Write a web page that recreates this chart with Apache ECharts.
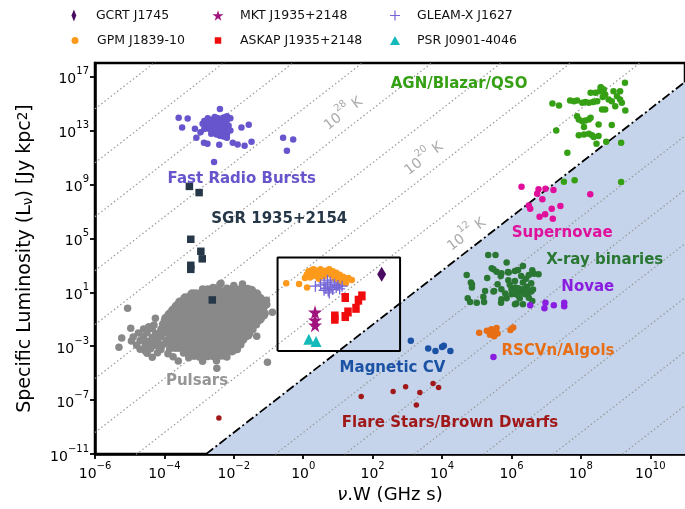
<!DOCTYPE html>
<html>
<head>
<meta charset="utf-8">
<script src="https://cdn.jsdelivr.net/npm/echarts@6/dist/echarts.min.js"></script>
<style>
  html, body { margin: 0; padding: 0; background: #fff; }
  #chart { width: 685px; height: 509px; }
</style>
</head>
<body>
<div id="chart"></div>
<script>
// Every point is [log10(nu*W / GHz s), log10(L_nu / Jy kpc^2)].

const xTicks = [-6, -4, -2, 0, 2, 4, 6, 8, 10];
const yTicks = [-11, -7, -3, 1, 5, 9, 13, 17];

// Brightness temperature lines: log L = 2 log(nu W) + log T - tbOffset
const tbOffset = 17.4;
const tempExponents = [-12, -8, -4, 0, 4, 8, 16, 20, 24, 28, 32, 36, 40, 44];
const limitExponent = 12;            // dash-dot line, region below it shaded
const tempLabels = [
  { exp: 28, at: [1.11, 14.41] },
  { exp: 20, at: [3.43, 11.07] },
  { exp: 12, at: [4.66, 5.44] }
];

// Box around the long-period transients
const zoomBoxX = [-0.74, 2.79];
const zoomBoxY = [-3.35, 3.57];

// Known source classes
const frb = [
  [-2.4,14.58],[-3.59,13.94],[-3.33,13.89],[-3.49,13.22],[-3.12,13.13],[-3.08,12.46],[-2.96,12.87],
  [-1.78,13.22],[-1.57,13.42],[-2.86,12.09],[-2.76,12.01],[-2.42,11.94],[-2.03,12.09],[-1.89,11.96],
  [-1.69,11.87],[-1.49,12.16],[-2.57,10.65],[-0.58,12.46],[-0.29,12.33],[-0.47,11.5],
  [-2.9,13.5],[-2.85,13.7],[-2.8,13.3],[-2.75,13.9],[-2.7,13.6],[-2.7,13.1],[-2.65,13.8],[-2.6,13.4],
  [-2.6,12.9],[-2.55,14.0],[-2.55,13.6],[-2.5,13.2],[-2.5,12.7],[-2.45,13.9],[-2.45,13.45],[-2.4,13.0],
  [-2.4,12.6],[-2.35,13.7],[-2.35,13.25],[-2.3,13.95],[-2.3,12.85],[-2.25,13.5],[-2.25,13.1],[-2.2,14.05],
  [-2.2,13.75],[-2.2,12.7],[-2.15,13.35],[-2.1,13.9],[-2.1,13.0],[-2.6,13.15],[-2.5,13.45],[-2.4,13.3],
  [-2.65,12.75],[-2.75,13.35],[-2.85,13.1],[-2.3,12.55],[-2.35,13.0],[-2.55,13.0],[-2.45,12.8],[-2.2,12.45]
];

const pulsars = [
  [-2.4,1.6],[-2.0,1.5],[-1.75,1.62],[-2.37,1.67],
  [-2.9,1.25],[-2.6,1.35],[-2.2,1.3],[-1.9,1.2],[-1.6,1.28],
  [-3.1,0.95],[-2.8,1.05],[-2.5,0.98],[-2.3,1.1],[-2.0,0.92],[-1.7,1.02],[-1.45,0.9],
  [-3.3,0.65],[-3.0,0.72],[-2.7,0.6],[-2.4,0.75],[-2.15,0.66],[-1.9,0.7],[-1.65,0.62],[-1.4,0.73],
  [-3.5,0.35],[-3.2,0.42],[-2.9,0.38],[-2.6,0.45],[-2.35,0.32],[-2.1,0.4],[-1.85,0.36],[-1.6,0.44],[-1.35,0.3],[-1.15,0.38],[-1.06,0.41],
  [-3.6,0.1],[-3.3,0.05],[-3.05,0.12],[-2.8,0.08],[-2.55,0.14],[-2.3,0.02],[-2.05,0.1],[-1.8,0.06],[-1.55,0.12],[-1.3,0.04],[-1.05,0.1],
  [-3.7,-0.22],[-3.45,-0.18],[-3.2,-0.25],[-2.95,-0.2],[-2.7,-0.15],[-2.45,-0.24],[-2.2,-0.2],[-1.95,-0.16],[-1.7,-0.23],[-1.45,-0.19],[-1.2,-0.24],[-0.89,-0.48],
  [-3.8,-0.52],[-3.55,-0.48],[-3.3,-0.55],[-3.05,-0.5],[-2.8,-0.46],[-2.55,-0.53],[-2.3,-0.5],[-2.05,-0.45],[-1.8,-0.54],[-1.55,-0.5],[-1.3,-0.47],[-1.1,-0.55],
  [-3.9,-0.82],[-3.65,-0.78],[-3.4,-0.85],[-3.15,-0.8],[-2.9,-0.76],[-2.65,-0.84],[-2.4,-0.8],[-2.15,-0.77],[-1.9,-0.83],[-1.65,-0.79],[-1.4,-0.85],[-1.2,-0.8],
  [-4.0,-1.12],[-3.75,-1.08],[-3.5,-1.15],[-3.25,-1.1],[-3.0,-1.06],[-2.75,-1.13],[-2.5,-1.1],[-2.25,-1.05],[-2.0,-1.14],[-1.75,-1.1],[-1.5,-1.07],[-1.3,-1.15],
  [-4.3,-1.42],[-4.05,-1.38],[-3.8,-1.45],[-3.55,-1.4],[-3.3,-1.36],[-3.05,-1.44],[-2.8,-1.4],[-2.55,-1.35],[-2.3,-1.43],[-2.05,-1.4],[-1.8,-1.37],[-1.55,-1.45],[-1.35,-1.4],
  [-4.6,-1.72],[-4.35,-1.68],[-4.1,-1.75],[-3.85,-1.7],[-3.6,-1.66],[-3.35,-1.74],[-3.1,-1.7],[-2.85,-1.65],[-2.6,-1.73],[-2.35,-1.7],[-2.1,-1.67],[-1.85,-1.75],[-1.6,-1.7],[-1.45,-1.76],
  [-4.75,-2.02],[-4.5,-1.98],[-4.25,-2.05],[-4.0,-2.0],[-3.75,-1.96],[-3.5,-2.04],[-3.25,-2.0],[-3.0,-1.95],[-2.75,-2.03],[-2.5,-2.0],[-2.25,-1.97],[-2.0,-2.05],[-1.75,-2.0],[-1.55,-2.04],
  [-4.9,-2.32],[-4.6,-2.28],[-4.35,-2.35],[-4.1,-2.3],[-3.85,-2.26],[-3.6,-2.34],[-3.35,-2.3],[-3.1,-2.25],[-2.85,-2.33],[-2.6,-2.3],[-2.35,-2.27],[-2.1,-2.35],[-1.85,-2.3],[-1.65,-2.28],[-1.34,-2.26],
  [-4.95,-2.62],[-4.7,-2.58],[-4.45,-2.65],[-4.2,-2.6],[-3.95,-2.56],[-3.7,-2.64],[-3.45,-2.6],[-3.2,-2.55],[-2.95,-2.63],[-2.7,-2.6],[-2.45,-2.57],[-2.2,-2.65],[-1.95,-2.6],
  [-4.8,-2.92],[-4.55,-2.88],[-4.3,-2.95],[-4.05,-2.9],[-3.8,-2.86],[-3.55,-2.94],[-3.3,-2.9],[-3.05,-2.85],[-2.8,-2.93],[-2.55,-2.9],[-2.3,-2.87],[-2.05,-2.95],[-1.8,-2.9],
  [-4.7,-3.22],[-4.4,-3.18],[-4.1,-3.25],[-3.85,-3.2],[-3.6,-3.16],[-3.35,-3.24],[-3.1,-3.2],[-2.85,-3.15],[-2.6,-3.23],[-2.35,-3.2],[-2.1,-3.17],[-1.9,-3.25],
  [-4.5,-3.52],[-4.2,-3.48],[-3.9,-3.55],[-3.45,-3.5],[-3.2,-3.46],[-2.95,-3.54],[-2.7,-3.5],[-2.45,-3.45],[-2.2,-3.53],
  [-4.35,-3.82],[-3.75,-3.78],[-3.3,-3.85],[-3.0,-3.8],[-2.75,-3.76],[-2.5,-3.84],[-2.2,-3.8],
  [-3.6,-4.1],[-2.9,-4.12],[-2.5,-4.08],
  [-5.06,-0.19],[-5.31,-3.07],[-5.23,-2.4],[-4.97,-1.67],[-1.03,-4.19],[-2.49,-4.63],[-4.26,-0.93],
  [-4.45,-1.55],[-4.2,-2.15],[-4.6,-2.45],[-4.35,-2.75],[-4.15,-3.05],[-4.55,-3.35]
];

// Densely packed pulsars in the middle of the cloud
const pulsarCore = [
  [-2.75,1.15],[-2.45,1.17],[-2.1,1.13],[-1.8,1.16],[-1.5,1.12],
  [-3.2,0.85],[-2.95,0.87],[-2.65,0.83],[-2.4,0.86],[-2.15,0.84],[-1.85,0.88],[-1.6,0.83],[-1.35,0.86],
  [-3.4,0.55],[-3.15,0.57],[-2.85,0.53],[-2.55,0.56],[-2.3,0.54],[-2.0,0.58],[-1.75,0.53],[-1.5,0.56],[-1.25,0.52],
  [-3.55,0.25],[-3.3,0.27],[-3.0,0.23],[-2.75,0.26],[-2.5,0.24],[-2.2,0.28],[-1.95,0.23],[-1.7,0.26],[-1.45,0.22],[-1.2,0.25],
  [-3.65,-0.05],[-3.4,-0.03],[-3.15,-0.07],[-2.9,-0.04],[-2.65,-0.06],[-2.4,-0.02],[-2.15,-0.07],[-1.9,-0.04],[-1.65,-0.08],[-1.4,-0.05],[-1.15,-0.03],
  [-3.75,-0.35],[-3.5,-0.33],[-3.25,-0.37],[-3.0,-0.34],[-2.75,-0.36],[-2.5,-0.32],[-2.25,-0.37],[-2.0,-0.34],[-1.75,-0.38],[-1.5,-0.35],[-1.25,-0.33],
  [-3.85,-0.65],[-3.6,-0.63],[-3.35,-0.67],[-3.1,-0.64],[-2.85,-0.66],[-2.6,-0.62],[-2.35,-0.67],[-2.1,-0.64],[-1.85,-0.68],[-1.6,-0.65],[-1.35,-0.63],[-1.15,-0.67],
  [-3.95,-0.95],[-3.7,-0.93],[-3.45,-0.97],[-3.2,-0.94],[-2.95,-0.96],[-2.7,-0.92],[-2.45,-0.97],[-2.2,-0.94],[-1.95,-0.98],[-1.7,-0.95],[-1.45,-0.93],[-1.25,-0.97],
  [-3.9,-1.25],[-3.65,-1.23],[-3.4,-1.27],[-3.15,-1.24],[-2.9,-1.26],[-2.65,-1.22],[-2.4,-1.27],[-2.15,-1.24],[-1.9,-1.28],[-1.65,-1.25],[-1.4,-1.23],
  [-3.95,-1.55],[-3.7,-1.53],[-3.45,-1.57],[-3.2,-1.54],[-2.95,-1.56],[-2.7,-1.52],[-2.45,-1.57],[-2.2,-1.54],[-1.95,-1.58],[-1.7,-1.55],[-1.5,-1.53],
  [-3.9,-1.85],[-3.65,-1.83],[-3.4,-1.87],[-3.15,-1.84],[-2.9,-1.86],[-2.65,-1.82],[-2.4,-1.87],[-2.15,-1.84],[-1.9,-1.88],[-1.65,-1.85],
  [-3.8,-2.15],[-3.55,-2.13],[-3.3,-2.17],[-3.05,-2.14],[-2.8,-2.16],[-2.55,-2.12],[-2.3,-2.17],[-2.05,-2.14],[-1.8,-2.18],[-1.6,-2.15],
  [-3.75,-2.45],[-3.5,-2.43],[-3.25,-2.47],[-3.0,-2.44],[-2.75,-2.46],[-2.5,-2.42],[-2.25,-2.47],[-2.0,-2.44],[-1.75,-2.48],
  [-3.85,-2.75],[-3.6,-2.73],[-3.35,-2.77],[-3.1,-2.74],[-2.85,-2.76],[-2.6,-2.72],[-2.35,-2.77],[-2.1,-2.74],[-1.9,-2.78],
  [-3.7,-3.05],[-3.45,-3.03],[-3.2,-3.07],[-2.95,-3.04],[-2.7,-3.06],[-2.45,-3.02],[-2.2,-3.07],[-1.95,-3.04],
  [-3.35,-3.35],[-3.05,-3.33],[-2.8,-3.37],[-2.55,-3.34],[-2.3,-3.36],[-2.05,-3.32],
  [-3.15,-3.65],[-2.9,-3.63],[-2.6,-3.67],[-2.35,-3.64]
];

const sgr = [[-3.28,8.85],[-3.0,8.39],[-3.24,4.93],[-2.95,4.04],[-2.91,3.48],[-3.24,3.0],[-3.24,2.7],[-2.62,0.43]];

const agn = [
  [7.18,15.0],[7.37,14.85],[7.69,15.22],[7.80,15.17],[7.89,15.22],[8.04,15.05],[8.13,15.10],[8.23,15.05],
  [8.37,15.12],[8.47,15.17],[8.28,15.79],[8.42,15.79],[8.58,16.16],[8.66,16.04],[8.70,15.67],[8.63,15.47],
  [8.80,15.3],[8.89,15.17],[8.94,15.91],[9.04,15.54],[9.13,15.91],[9.13,15.3],[9.18,15.05],[9.28,14.48],
  [8.99,14.8],[8.61,14.56],[8.70,14.56],[7.89,14.06],[7.94,13.81],[8.04,13.69],[8.13,13.74],[8.23,13.81],
  [8.28,13.94],[8.51,13.44],[8.89,13.4],[8.09,13.25],[7.94,12.65],[8.09,12.7],[8.23,12.75],[8.32,12.65],
  [8.37,12.51],[8.51,12.58],[8.45,12.01],[8.73,12.16],[9.16,12.09],[7.29,13.0],[7.61,11.35],[7.51,9.2],
  [7.82,9.3],[9.16,9.17],[9.27,16.53],[8.57,16.2],[8.35,15.1],[8.55,15.9]
];

const supernovae = [
  [6.29,8.83],[6.78,8.63],[6.98,8.68],[7.21,8.58],[6.74,8.31],[6.89,7.89],[6.50,7.44],
  [6.54,7.2],[7.16,7.2],[7.41,7.39],[6.81,6.6],[6.97,6.78],[7.19,6.46],[8.27,8.26]
];

const xrayBinaries = [
  [5.33,3.77],[5.54,3.77],[5.86,3.2],[4.71,2.28],[5.43,2.78],[5.57,2.53],[5.69,2.21],[5.92,2.46],
  [6.10,2.58],[6.19,2.65],[6.33,2.95],[6.60,2.63],[6.65,2.38],[6.78,2.33],[6.50,2.28],[5.91,1.89],
  [6.10,1.84],[6.33,1.72],[6.57,1.67],[4.86,1.59],[4.86,1.35],[5.48,1.05],[5.71,1.22],[6.0,1.22],
  [6.11,1.35],[6.24,1.1],[6.33,0.98],[6.48,0.98],[6.57,1.05],[6.14,0.85],[6.0,0.85],[4.74,0.56],
  [5.19,0.65],[5.71,0.48],[5.86,0.56],[6.24,0.56],[6.40,0.85],[4.81,0.28],[5.0,0.23],[5.21,0.28],
  [5.70,0.23],[6.14,0.16],[6.33,0.11],[6.1,0.11],[5.24,1.1],[5.5,1.1],[4.83,1.72],[5.9,2.5],
  [5.71,2.41],[5.48,2.7],[6.2,1.3],[6.35,1.25],[6.45,1.4],[6.05,1.0],[6.2,0.75],[6.5,0.6],
  [6.62,1.2],[6.28,2.2],[6.42,2.0],[5.95,1.55],[5.6,1.6],[5.3,2.05],[5.82,0.9],[6.6,0.35]
];

const novae = [[6.54,0.04],[6.98,0.23],[6.95,-0.19],[7.22,0.04],[7.52,0.23],[7.52,-0.03],[5.48,-3.8]];

const rscvn = [
  [5.07,-2.0],[5.29,-1.85],[5.42,-1.74],[5.5,-1.88],[5.57,-1.65],[5.38,-2.15],
  [5.5,-2.27],[5.6,-2.05],[5.46,-2.02],[5.97,-1.8],[6.05,-1.62]
];

const magneticCV = [[3.1,-2.6],[3.6,-3.17],[3.81,-3.35],[4.0,-3.05],[4.05,-2.97],[4.24,-3.35]];

const flareStars = [[1.67,-6.73],[2.59,-6.36],[2.95,-6.01],[3.36,-6.43],[3.74,-5.77],[3.90,-6.06],[3.26,-7.35],[-2.43,-8.33]];

// Long-period transients
const gcrt = [[2.26,2.33]];
const gpm = [
  [-0.49,1.67],[-0.12,1.62],[0.11,1.35],[0.1,2.3],[0.15,2.55],[0.2,2.1],[0.25,2.65],[0.3,2.4],
  [0.35,2.2],[0.4,2.6],[0.45,2.35],[0.5,2.7],[0.55,2.5],[0.6,2.2],[0.65,2.6],[0.7,2.4],[0.75,2.7],
  [0.8,2.3],[0.85,2.55],[0.9,2.2],[0.95,2.45],[1.0,2.1],[1.05,2.3],[1.1,2.0],[1.15,2.15],[1.2,1.9],
  [1.23,1.67],[1.04,1.77],[1.4,1.91],[1.3,2.05],[0.2,2.45],[0.3,2.7],[0.45,2.0],[0.6,2.45],[0.9,2.0],[0.05,2.05]
];
const mkt = [[0.34,-0.48],[0.34,-1.07],[0.34,-1.44]];
const askap = [[1.21,0.61],[1.69,0.73],[1.59,0.41],[1.52,-0.19],[1.29,-0.46],[1.21,-0.8],[0.91,-0.76],[0.91,-1.0]];
const gleamx = [
  [0.35,1.45],[0.5,1.55],[0.6,1.7],[0.65,1.3],[0.7,1.9],[0.7,1.55],[0.72,1.1],[0.78,1.75],[0.8,1.4],
  [0.85,1.2],[0.9,1.6],[0.95,1.35],[1.0,1.5],[1.05,1.25],[1.12,1.45],[0.6,1.15],[0.75,0.95]
];
const psr0901 = [[0.16,-2.48],[0.37,-2.65]];

// Class names written on the plot
const classLabels = [
  { text: 'AGN/Blazar/QSO', at: [4.49, 16.41], color: '#36a015' },
  { text: 'Fast Radio Bursts', at: [-1.77, 9.37], color: '#6655cc' },
  { text: 'SGR 1935+2154', at: [-0.69, 6.41], color: '#263848' },
  { text: 'Pulsars', at: [-3.06, -5.59], color: '#959595' },
  { text: 'Supernovae', at: [7.46, 5.37], color: '#e0109c' },
  { text: 'X-ray binaries', at: [8.69, 3.37], color: '#2a7633' },
  { text: 'Novae', at: [8.2, 1.37], color: '#8a1ee0' },
  { text: 'RSCVn/Algols', at: [7.34, -3.37], color: '#e86e15' },
  { text: 'Magnetic CV', at: [2.57, -4.63], color: '#1b52a4' },
  { text: 'Flare Stars/Brown Dwarfs', at: [4.23, -8.7], color: '#a01818' }
];

const X_MIN = -6, X_MAX = 11, Y_MIN = -11, Y_MAX = 18;
const FONT = '"DejaVu Sans", sans-serif';
const STAR = 'path://M50,0 L61,35 L98,35 L68,57 L79,91 L50,70 L21,91 L32,57 L2,35 L39,35 Z';
const PLUS = 'path://M4.4,0h1.2v4.4h4.4v1.2h-4.4v4.4h-1.2v-4.4h-4.4v-1.2h4.4z';
const THIN_DIAMOND = 'path://M5,0L9,10L5,20L1,10Z';

function supText(v) { return String(v).replace('-', '\u2212'); }
function tickLabel(v) { return '{b|10}{s|' + supText(v) + '}'; }
const tickRich = {
  b: { fontSize: 14, fontFamily: FONT, color: '#000', verticalAlign: 'bottom', lineHeight: 20 },
  s: { fontSize: 10, fontFamily: FONT, color: '#000', verticalAlign: 'top', lineHeight: 11 }
};

function tempLine(exp) {
  return [[X_MIN, 2 * X_MIN + exp - tbOffset], [X_MAX, 2 * X_MAX + exp - tbOffset]];
}

const series = [];

// Shaded region below the brightness-temperature limit
const limitC = limitExponent - tbOffset;
series.push({
  type: 'line', silent: true, symbol: 'none', z: 1,
  data: [[(Y_MIN - limitC) / 2, Y_MIN], [X_MAX, 2 * X_MAX + limitC]],
  lineStyle: { color: '#000', width: 1.8, type: [9, 3, 2, 3] },
  areaStyle: { color: 'rgb(197,212,234)', opacity: 1, origin: 'start' }
});

tempExponents.forEach(function (e) {
  series.push({
    type: 'line', silent: true, symbol: 'none', z: 2,
    data: tempLine(e),
    lineStyle: { color: '#999', width: 1.2, type: [1.5, 2.5] }
  });
});

function scatter(name, data, opts) {
  return Object.assign({
    type: 'scatter', name: name, data: data, z: 5,
    symbol: 'circle', symbolSize: 6.5, large: false,
    itemStyle: { color: opts.color, opacity: 1, borderWidth: 0, shadowBlur: 0 },
    emphasis: { disabled: true }
  }, opts.extra || {});
}

series.push(scatter('Pulsars', pulsarCore, { color: '#898989', extra: { symbolSize: 10 } }));
series.push(scatter('Pulsars', pulsars, { color: '#898989', extra: { symbolSize: 7.5 } }));
series.push(scatter('Fast Radio Bursts', frb, { color: '#6655cc' }));
series.push(scatter('AGN/Blazar/QSO', agn, { color: '#36a015' }));
series.push(scatter('Supernovae', supernovae, { color: '#e0109c' }));
series.push(scatter('X-ray binaries', xrayBinaries, { color: '#2a7633' }));
series.push(scatter('Novae', novae, { color: '#8a1ee0' }));
series.push(scatter('RSCVn/Algols', rscvn, { color: '#e86e15' }));
series.push(scatter('Magnetic CV', magneticCV, { color: '#1b52a4' }));
series.push(scatter('Flare Stars/Brown Dwarfs', flareStars, { color: '#a01818', extra: { symbolSize: 5.5 } }));
series.push(scatter('SGR 1935+2154', sgr, { color: '#263848', extra: { symbol: 'rect', symbolSize: 7.5 } }));

// Box around the long-period transients
series.push({
  type: 'line', silent: true, symbol: 'none', z: 6,
  data: [[zoomBoxX[0], zoomBoxY[0]], [zoomBoxX[1], zoomBoxY[0]], [zoomBoxX[1], zoomBoxY[1]],
         [zoomBoxX[0], zoomBoxY[1]], [zoomBoxX[0], zoomBoxY[0]]],
  lineStyle: { color: '#000', width: 2 }
});

series.push(scatter('GPM J1839-10', gpm, { color: '#fd9a1c', extra: { z: 7 } }));
series.push(scatter('GLEAM-X J1627', gleamx, { color: '#7466d6', extra: { z: 8, symbol: PLUS, symbolSize: 11 } }));
series.push(scatter('ASKAP J1935+2148', askap, { color: '#f00c0c', extra: { z: 8, symbol: 'rect', symbolSize: [7.5, 9] } }));
series.push(scatter('MKT J1935+2148', mkt, { color: '#a0127c', extra: { z: 8, symbol: STAR, symbolSize: 14 } }));
series.push(scatter('PSR J0901-4046', psr0901, { color: '#14baba', extra: { z: 8, symbol: 'triangle', symbolSize: 11 } }));
series.push(scatter('GCRT J1745', gcrt, { color: '#4b0b63', extra: { z: 8, symbol: THIN_DIAMOND, symbolSize: [9, 15] } }));

// Text annotations
series.push({
  type: 'scatter', silent: true, symbolSize: 0, z: 9,
  itemStyle: { opacity: 1 },
  data: classLabels.map(function (c) {
    return {
      value: c.at,
      label: { show: true, position: 'inside', formatter: c.text, color: c.color, opacity: 1,
               textBorderWidth: 0, fontSize: 15, fontWeight: 'bold', fontFamily: FONT }
    };
  }).concat(tempLabels.map(function (t) {
    return {
      value: t.at,
      label: { show: true, position: 'inside', rotate: 37.6, textBorderWidth: 0,
               formatter: '{b|10}{s|' + t.exp + '}{b| K}',
               rich: {
                 b: { fontSize: 14, fontFamily: FONT, color: '#aaaaaa', verticalAlign: 'bottom', lineHeight: 20 },
                 s: { fontSize: 10, fontFamily: FONT, color: '#aaaaaa', verticalAlign: 'top', lineHeight: 11 }
               } }
    };
  }))
});

// Legend: three columns of two entries, one component per entry
const legendEntries = [
  { name: 'GCRT J1745',       cx: 75,  cy: 17, w: 7,   h: 12 },
  { name: 'GPM J1839-10',     cx: 75,  cy: 42, w: 7,   h: 7 },
  { name: 'MKT J1935+2148',   cx: 218, cy: 17, w: 11,  h: 11 },
  { name: 'ASKAP J1935+2148', cx: 218, cy: 42, w: 6.5, h: 6.5 },
  { name: 'GLEAM-X J1627',    cx: 395, cy: 17, w: 10,  h: 10 },
  { name: 'PSR J0901-4046',   cx: 395, cy: 42, w: 10,  h: 9 }
];
const legendTextOffset = 22;   // icon centre to text start
const legends = legendEntries.map(function (e) {
  const gap = legendTextOffset - e.w / 2 - 5;
  return {
    data: [e.name], orient: 'horizontal', selectedMode: false,
    padding: 0, left: e.cx - e.w / 2, top: e.cy - 8,
    itemWidth: e.w, itemHeight: e.h,
    formatter: function (n) { return '{g| }{n|' + n + '}'; },
    textStyle: {
      rich: {
        g: { width: gap, fontSize: 12, lineHeight: 16 },
        n: { fontSize: 12.5, lineHeight: 16, fontFamily: FONT, color: '#111' }
      }
    }
  };
});

const option = {
  backgroundColor: '#fff',
  animation: false,
  legend: legends,
  grid: { left: 95, right: -5, top: 63, bottom: 54, show: true, borderColor: '#000', borderWidth: 2.5, containLabel: false },
  xAxis: {
    type: 'value', min: X_MIN, max: X_MAX,
    axisLine: { onZero: false, lineStyle: { color: '#000', width: 2.5 } },
    axisTick: { customValues: xTicks, length: 5, lineStyle: { color: '#000', width: 1.8 } },
    axisLabel: { customValues: xTicks, formatter: tickLabel, rich: tickRich, margin: 7 },
    splitLine: { show: false },
    name: '{i|\u03bd}.W (GHz s)', nameLocation: 'middle', nameGap: 30,
    nameTextStyle: { fontSize: 18, fontFamily: FONT, color: '#000',
      rich: { i: { fontSize: 18, fontFamily: FONT, fontStyle: 'italic', color: '#000' } } }
  },
  yAxis: {
    type: 'value', min: Y_MIN, max: Y_MAX,
    axisLine: { onZero: false, lineStyle: { color: '#000', width: 2.5 } },
    axisTick: { customValues: yTicks, length: 5, lineStyle: { color: '#000', width: 1.8 } },
    axisLabel: { customValues: yTicks, formatter: tickLabel, rich: tickRich, margin: 6 },
    splitLine: { show: false },
    name: 'Specific Luminosity (L{sub|\u03bd}) [Jy kpc{sup|2}]', nameLocation: 'middle', nameGap: 60,
    nameTextStyle: { fontSize: 19, fontFamily: FONT, color: '#000',
      rich: {
        sub: { fontSize: 13.5, fontFamily: FONT, color: '#000', verticalAlign: 'bottom', lineHeight: 15 },
        sup: { fontSize: 13.5, fontFamily: FONT, color: '#000', verticalAlign: 'top', lineHeight: 15 }
      } }
  },
  series: series
};

const chart = echarts.init(document.getElementById('chart'), null, { renderer: 'canvas' });
chart.setOption(option);
</script>
</body>
</html>
